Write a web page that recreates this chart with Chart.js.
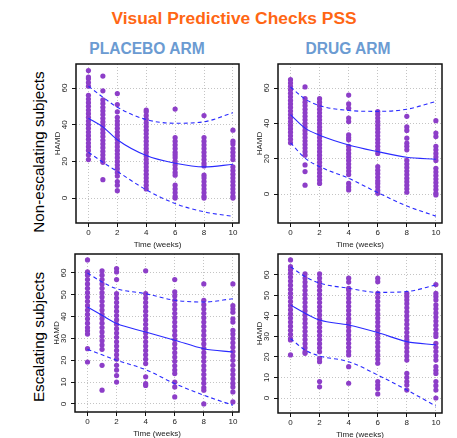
<!DOCTYPE html>
<html>
<head>
<meta charset="utf-8">
<script src="https://cdn.jsdelivr.net/npm/chart.js@4.4.0/dist/chart.umd.min.js"></script>
<style>
  html, body { margin: 0; padding: 0; background: #fff; }
  #page { position: relative; width: 457px; height: 438px; overflow: hidden; font-family: "Liberation Sans", Arial, sans-serif; }
  .lbl { position: absolute; white-space: nowrap; line-height: 1; transform: translate(-50%, -50%); }
  .main { color: #ff6614; font-weight: bold; font-size: 17.4px; }
  .arm { color: #6b9bd2; font-weight: bold; font-size: 15.6px; }
  .row { color: #000; font-size: 15.2px; transform: translate(-50%, -50%) rotate(-90deg); }
  canvas { position: absolute; }
</style>
</head>
<body>
<div id="page">
  <div class="lbl main" style="left:234px; top:19px;">Visual Predictive Checks PSS</div>
  <div class="lbl arm" style="left:147px; top:49px;">PLACEBO ARM</div>
  <div class="lbl arm" style="left:348px; top:49px;">DRUG ARM</div>
  <div class="lbl row" style="left:39px; top:152px;">Non-escalating subjects</div>
  <div class="lbl row" style="left:39px; top:337px;">Escalating subjects</div>
  <canvas id="c1"></canvas>
  <canvas id="c2"></canvas>
  <canvas id="c3"></canvas>
  <canvas id="c4"></canvas>
</div>
<script>
// Visual predictive check panels
const times = [0, 1, 2, 4, 6, 8, 10];
const xTicks = [0, 2, 4, 6, 8, 10];
const yTicksTop = [0, 20, 40, 60];
const yTicksBottom = [0, 10, 20, 30, 40, 50, 60];

// placebo arm, non-escalating subjects (observed HAMD per visit)
const pboNonEscObs = [
    [69.5, 66, 65, 63, 61, 56, 54, 52, 50, 48, 46, 44, 42, 40, 38, 36, 34, 32, 30, 28, 26, 23.5, 21],
    [66.5, 58.5, 53.5, 51.5, 49.5, 47.5, 45.5, 43.5, 41.5, 39.5, 37.5, 35.5, 33.5, 31.5, 29.5, 27.5, 25.5, 23.5, 21.5, 19.5, 10],
    [57, 51, 47, 44, 42, 40, 38, 36, 34, 32, 30, 28, 26, 24, 22, 20, 18, 16, 14, 12, 9, 7, 4],
    [48, 47, 45, 43, 41, 39, 37, 35, 33, 31, 29, 27, 25, 23, 21, 19, 17, 15, 13, 11, 9, 7, 5],
    [48.5, 33, 31, 29, 27, 25, 23.5, 22, 20, 18, 16, 14, 12.5, 7, 5, 3, 1, 0],
    [45, 33, 31, 29, 27, 25, 23, 21, 19, 17.5, 12.5, 11, 9, 7, 5, 3, 1, 0],
    [37, 31, 29.5, 27, 25, 23, 21, 17, 15, 13, 11, 9, 7, 5, 3, 1, 0]
];
const pboNonEscMedian = [43.5, 38.8, 31.8, 23.2, 19, 17, 18.4];
const pboNonEscUpper = [61, 55, 49.5, 42.8, 40.8, 41.6, 46.5];
const pboNonEscLower = [25, 19.5, 14.5, 4.5, -3, -7.5, -10];

// drug arm, non-escalating subjects
const drugNonEscObs = [
    [64.7, 62.8, 61, 59, 57, 55, 53, 51, 49, 47, 45, 43, 41, 39, 37, 35, 33, 31, 29],
    [60.6, 54, 52, 50, 48, 46, 44, 42, 40, 38, 36, 34, 32, 30, 28, 26, 24, 22, 16.5, 12.7, 5],
    [54, 52, 50, 48, 46, 44, 42, 40, 38, 36, 34, 32, 30, 28, 26, 24, 22, 20, 18, 16, 14, 12, 10, 8, 6],
    [56, 51, 48.6, 43, 41, 33.5, 32, 30.7, 27, 25, 23, 21, 19, 17, 15, 13, 11, 6, 4, 2.3],
    [46.7, 45, 43, 41, 39, 37, 35, 33, 31, 29, 27, 25, 23, 15.5, 13.5, 11.5, 9.5, 7.5, 6, 4, 2, 0.4],
    [44, 38, 36, 31.6, 28.8, 27, 25, 19, 17, 15, 13, 11, 9, 7, 5, 3, 1],
    [41.5, 34.5, 32.5, 27, 25, 23, 21, 19, 14.6, 12.5, 10.5, 8.5, 6.5, 4.5, 2.5, 0.5, -0.5]
];
const drugNonEscMedian = [44.9, 37.3, 33.3, 27.8, 24, 20.8, 19.7];
const drugNonEscUpper = [60.6, 53.8, 50, 47.3, 46.8, 48, 52.4];
const drugNonEscLower = [29, 20.3, 15.5, 8.9, 0.8, -6.8, -12.5];

// placebo arm, escalating subjects
const pboEscObs = [
    [66, 60.5, 59, 57, 55, 53, 51, 49, 47, 45, 43, 41, 39, 37, 35, 33.5, 32, 25.3, 19.2],
    [61, 59, 57, 55, 53, 51, 49, 47, 45, 43, 41, 39, 37, 35, 33, 31, 29, 27, 25, 17.7, 6.3],
    [62, 60.5, 57, 50.5, 48.5, 46.5, 44.5, 42.5, 40.5, 38.5, 36.5, 34.5, 32.5, 30.5, 28.5, 26.5, 24.5, 22.5, 20.5, 17.7, 15.5, 13, 10],
    [61, 50.5, 48.5, 46.5, 44.5, 42.5, 40.5, 38.5, 36.5, 34.5, 32.5, 30.5, 28.5, 26.5, 24.5, 22.5, 20.5, 18.5, 12.4, 9.3, 8.5],
    [57, 51.3, 49.5, 47.5, 45.5, 43.5, 41.5, 39.5, 37.5, 35.5, 33.5, 31.5, 29.5, 27.5, 25.5, 23.5, 21.5, 19.5, 17.5, 15.5, 13.9, 10, 7.8, 3.2],
    [55, 47.5, 45.5, 43.5, 41.5, 39.5, 37.5, 35.5, 33.5, 31.5, 29.5, 27.5, 25.5, 23.5, 21.5, 19.5, 17.5, 15.5, 13.5, 11.5, 9.5, 7.5, 6.3, 0],
    [55, 45, 43.5, 42, 39, 37.5, 33.7, 32, 30, 28, 26, 24, 22, 20, 17.7, 15.5, 13.5, 11.5, 9.5, 7.8, 5.5, 0.9]
];
const pboEscMedian = [44.4, 40.6, 36.8, 33, 29.2, 25.3, 23.8];
const pboEscUpper = [60, 55.9, 52.8, 50.5, 47.5, 46.7, 48.2];
const pboEscLower = [25, 22.5, 20, 15.7, 9.3, 4, -0.6];

// drug arm, escalating subjects
const drugEscObs = [
    [67.3, 64, 62.5, 60.8, 59, 57, 55, 53, 51, 49, 47, 45, 43, 41, 39, 37, 35, 33, 31, 29, 28.3, 21],
    [60.5, 58.5, 56.5, 54.5, 52.5, 50.5, 48.5, 46.5, 44.5, 42.5, 40.5, 38.5, 36.5, 34.5, 32.5, 30.5, 28.5, 26.5, 24.5, 22.5, 21.8],
    [60.5, 58.5, 56.5, 54.5, 52.5, 50.5, 48.5, 46.5, 44.5, 42.5, 40.5, 38.5, 36.5, 34.5, 32.5, 30.5, 28.5, 26.5, 24.5, 22.5, 19.3, 17.7, 8, 5.5],
    [58.4, 56.5, 53.5, 52.7, 50.7, 48.7, 46.7, 44.7, 42.7, 40.7, 38.7, 36.7, 34.7, 32.7, 30.7, 28.7, 26.7, 24.7, 22.7, 21, 15.3, 7.2],
    [58.4, 56.7, 51, 49, 47, 45, 43, 41, 39, 37, 35, 33, 31, 29, 27, 25, 23, 21, 19, 17, 8, 6.3, 4.7, 2],
    [51, 49.5, 47.8, 46, 44, 42, 40, 38, 36, 34, 32, 30, 28.3, 26.5, 24.5, 22.5, 20.5, 18.5, 12, 10, 8, 6.3, 3.9],
    [55.3, 51, 49.5, 47.8, 45.4, 43.5, 41.5, 39.5, 37.5, 35.5, 33.5, 31.5, 30, 26.7, 24.7, 22.7, 20.5, 18.5, 15.3, 13.5, 12, 8, 6, 3.9, 0]
];
const drugEscMedian = [45.4, 41.3, 38, 35.6, 31.9, 27.5, 25.9];
const drugEscUpper = [64, 59.2, 56, 53.5, 51.5, 51.9, 55.1];
const drugEscLower = [29, 23.4, 20.5, 17.7, 11.2, 3.9, -3.9];

Chart.defaults.font.family = '"Liberation Sans", Arial, sans-serif';

const dotColor = '#8d3ec8';
const lineColor = '#2a2aff';

// draws the box round the plot and the rotated y tick labels (R style)
const rStyle = {
    id: 'rStyle',
    afterDraw(chart) {
        const c = chart.ctx;
        const a = chart.chartArea;
        const ys = chart.scales.y;
        c.save();
        c.strokeStyle = '#111';
        c.lineWidth = 1.5;
        c.strokeRect(a.left, a.top, a.right - a.left, a.bottom - a.top);
        c.fillStyle = '#222';
        c.font = '8px "Liberation Sans", Arial, sans-serif';
        c.textAlign = 'center';
        c.textBaseline = 'middle';
        ys.ticks.forEach(t => {
            const py = ys.getPixelForValue(t.value);
            c.save();
            c.translate(a.left - 11, py);
            c.rotate(-Math.PI / 2);
            c.fillText(String(t.value), 0, 0);
            c.restore();
        });
        c.restore();
    }
};

function toPoints(vals) {
    return times.map((t, i) => ({ x: t, y: vals[i] }));
}

function makePanel(id, box, yRange, yTicks, obs, median, upper, lower) {
    const canvas = document.getElementById(id);
    const left = box.l - 40;
    const top = box.t - 8;
    canvas.width = box.r + 6 - left;
    canvas.height = 8 + (box.b - box.t) + 27;
    canvas.style.left = left + 'px';
    canvas.style.top = top + 'px';

    const obsPoints = [];
    times.forEach((t, i) => {
        obs[i].forEach(v => obsPoints.push({ x: t, y: v }));
    });

    const lineDefaults = {
        showLine: true,
        borderColor: lineColor,
        borderWidth: 1.1,
        pointRadius: 0,
        cubicInterpolationMode: 'monotone',
        order: 1
    };

    return new Chart(canvas.getContext('2d'), {
        type: 'scatter',
        data: {
            datasets: [
                Object.assign({ data: toPoints(median) }, lineDefaults),
                Object.assign({ data: toPoints(upper), borderDash: [4, 3] }, lineDefaults),
                Object.assign({ data: toPoints(lower), borderDash: [4, 3] }, lineDefaults),
                {
                    data: obsPoints,
                    pointRadius: 2.6,
                    pointBackgroundColor: dotColor,
                    pointBorderWidth: 0,
                    showLine: false,
                    order: 2
                }
            ]
        },
        options: {
            responsive: false,
            animation: false,
            events: [],
            layout: { padding: { left: 0, top: 8, right: 6, bottom: 0 } },
            plugins: { legend: { display: false }, tooltip: { enabled: false } },
            scales: {
                x: {
                    type: 'linear',
                    min: -0.86,
                    max: 10.42,
                    afterBuildTicks: s => { s.ticks = xTicks.map(v => ({ value: v })); },
                    afterFit: s => { s.height = 27; },
                    ticks: { font: { size: 8 }, color: '#222', padding: 1, autoSkip: false, maxRotation: 0 },
                    grid: { color: '#c4c4c4', lineWidth: 1, tickColor: '#111', tickLength: 4, tickWidth: 1, tickBorderDash: [] },
                    border: { display: false, dash: [1, 2] },
                    title: { display: true, text: 'Time (weeks)', font: { size: 8 }, color: '#222', padding: 0 }
                },
                y: {
                    type: 'linear',
                    min: yRange[0],
                    max: yRange[1],
                    afterBuildTicks: s => { s.ticks = yTicks.map(v => ({ value: v })); },
                    afterFit: s => { s.width = 40; },
                    ticks: { display: false },
                    grid: { color: '#c4c4c4', lineWidth: 1, tickColor: '#111', tickLength: 4, tickWidth: 1, tickBorderDash: [] },
                    border: { display: false, dash: [1, 2] },
                    title: { display: true, text: 'HAMD', font: { size: 8 }, color: '#222', padding: { top: 17, bottom: 0 } }
                }
            }
        },
        plugins: [rStyle]
    });
}

makePanel('c1', { l: 76, r: 239, t: 64, b: 223 }, [-13.6, 73.1], yTicksTop,
    pboNonEscObs, pboNonEscMedian, pboNonEscUpper, pboNonEscLower);
makePanel('c2', { l: 278, r: 442, t: 64, b: 223 }, [-16.4, 73.6], yTicksTop,
    drugNonEscObs, drugNonEscMedian, drugNonEscUpper, drugNonEscLower);
makePanel('c3', { l: 75, r: 239, t: 254, b: 412 }, [-3.7, 68.7], yTicksBottom,
    pboEscObs, pboEscMedian, pboEscUpper, pboEscLower);
makePanel('c4', { l: 278, r: 442, t: 254, b: 413 }, [-7.3, 70.2], yTicksBottom,
    drugEscObs, drugEscMedian, drugEscUpper, drugEscLower);
</script>
</body>
</html>
